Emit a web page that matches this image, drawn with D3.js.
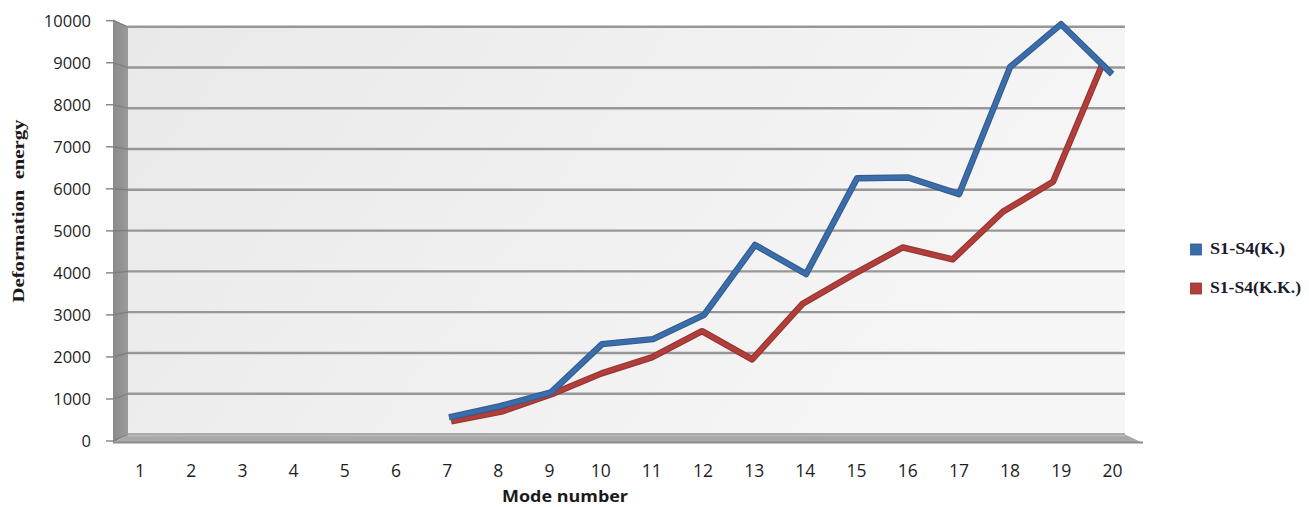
<!DOCTYPE html>
<html>
<head>
<meta charset="utf-8">
<script src="https://cdn.jsdelivr.net/npm/d3@7"></script>
<style>
  body { margin: 0; background: #fff; }
  svg { display: block; }
</style>
</head>
<body>
<svg id="chart" width="1309" height="507"></svg>
<script>
// Mode numbers on the category axis
const modes = [1, 2, 3, 4, 5, 6, 7, 8, 9, 10, 11, 12, 13, 14, 15, 16, 17, 18, 19, 20];
// Deformation energy per mode (no value for modes 1-6)
const energyK  = [null, null, null, null, null, null, 520, 790, 1120, 2280, 2400, 2980, 4660, 3960, 6260, 6280, 5880, 8930, 9960, 8760];
const energyKK = [null, null, null, null, null, null, 350, 585, 1010, 1520, 1910, 2550, 1860, 3210, 3920, 4590, 4300, 5460, 6190, 9100];
const yTicks = [0, 1000, 2000, 3000, 4000, 5000, 6000, 7000, 8000, 9000, 10000];
const seriesNames = ["S1-S4(K.)", "S1-S4(K.K.)"];
const seriesColors = ["#3b6dab", "#b23e3b"];

const svg = d3.select("#chart");

// 3D box: front plane (axis side) and back wall
const xFront = d3.scaleBand().domain(modes).range([113, 1143]);
const xBack  = d3.scaleBand().domain(modes).range([128, 1125]);
const yFront = d3.scaleLinear().domain([0, 10000]).range([441, 20.7]);
const yBack  = d3.scaleLinear().domain([0, 10000]).range([434.5, 26.7]);
const xLabel = d3.scaleBand().domain(modes).range([114.5, 1138]);

// project a (mode, value) point at depth t (0 = front, 1 = back wall)
function project(m, v, t) {
  const xf = xFront(m) + xFront.bandwidth() / 2;
  const xb = xBack(m) + xBack.bandwidth() / 2;
  return [xf + (xb - xf) * t, yFront(v) + (yBack(v) - yFront(v)) * t];
}

const defs = svg.append("defs");
const wallGrad = defs.append("linearGradient").attr("id", "wall").attr("x1", 0).attr("x2", 1).attr("y1", 0).attr("y2", 0.3);
wallGrad.append("stop").attr("offset", 0).attr("stop-color", "#e9e9e9");
wallGrad.append("stop").attr("offset", 1).attr("stop-color", "#f6f6f6");
const sideGrad = defs.append("linearGradient").attr("id", "side").attr("x1", 0).attr("x2", 1);
sideGrad.append("stop").attr("offset", 0).attr("stop-color", "#8b8b8b");
sideGrad.append("stop").attr("offset", 1).attr("stop-color", "#9a9a9a");

const [bx0, bx1] = xBack.range();
const [fx0, fx1] = xFront.range();

// back wall
svg.append("rect")
  .attr("x", bx0).attr("y", yBack(10000))
  .attr("width", bx1 - bx0).attr("height", yBack(0) - yBack(10000))
  .attr("fill", "url(#wall)");

// left side wall
svg.append("polygon")
  .attr("points", [[fx0, yFront(10000) - 1.5], [bx0, yBack(10000)], [bx0, yBack(0)], [fx0, yFront(0) + 2]].join(" "))
  .attr("fill", "url(#side)");

// gridlines across the back wall and the side wall
const grid = svg.append("g");
grid.selectAll("line.back").data(yTicks).join("line")
  .attr("class", "back")
  .attr("x1", bx0).attr("x2", bx1)
  .attr("y1", d => yBack(d)).attr("y2", d => yBack(d))
  .attr("stroke", "#979797").attr("stroke-width", 2.4);
grid.selectAll("line.side").data(yTicks).join("line")
  .attr("class", "side")
  .attr("x1", fx0).attr("x2", bx0)
  .attr("y1", d => yFront(d)).attr("y2", d => yBack(d))
  .attr("stroke", "#7d7d7d").attr("stroke-width", 1.2);

// floor
svg.append("polygon")
  .attr("points", [[fx0, yFront(0) + 2], [bx0, yBack(0)], [bx1, yBack(0)], [fx1, yFront(0) + 2]].join(" "))
  .attr("fill", "#a8a8a8");
svg.append("line")
  .attr("x1", fx0).attr("x2", fx1)
  .attr("y1", yFront(0) + 1.5).attr("y2", yFront(0) + 1.5)
  .attr("stroke", "#8c8c8c").attr("stroke-width", 2);
svg.append("line")
  .attr("x1", bx0).attr("x2", bx1)
  .attr("y1", yBack(0) + 1).attr("y2", yBack(0) + 1)
  .attr("stroke", "#bdbdbd").attr("stroke-width", 1.5);

// value axis ticks and labels
const yAxis = svg.append("g");
yAxis.selectAll("line").data(yTicks).join("line")
  .attr("x1", 106).attr("x2", fx0)
  .attr("y1", d => yFront(d)).attr("y2", d => yFront(d))
  .attr("stroke", "#8a8a8a").attr("stroke-width", 1.5);
yAxis.selectAll("text").data(yTicks).join("text")
  .attr("x", 91).attr("y", d => yFront(d) + 6)
  .attr("text-anchor", "end")
  .attr("font-family", "Open Sans, sans-serif")
  .attr("font-size", 16.5)
  .attr("fill", "#1e1e1e")
  .text(d => d);

// category labels
svg.append("g").selectAll("text").data(modes).join("text")
  .attr("x", d => xLabel(d) + xLabel.bandwidth() / 2)
  .attr("y", 476.5)
  .attr("text-anchor", "middle")
  .attr("font-family", "Open Sans, sans-serif")
  .attr("font-size", 17.5)
  .attr("fill", "#1e1e1e")
  .text(d => d);

// series ribbons: the second series sits deeper in the box
const series = [
  { name: seriesNames[1], values: energyKK, color: seriesColors[1], depth: 0.82 },
  { name: seriesNames[0], values: energyK,  color: seriesColors[0], depth: 0.3 }
];
const line = d3.line().defined(d => d[1] != null).x(d => d[0]).y(d => d[1]);
series.forEach(s => {
  const pts = modes.map((m, i) => s.values[i] == null ? [0, null] : project(m, s.values[i], s.depth));
  svg.append("path")
    .attr("d", line(pts))
    .attr("fill", "none")
    .attr("stroke", d3.color(s.color).darker(0.5))
    .attr("stroke-width", 6.4)
    .attr("stroke-linejoin", "round");
  svg.append("path")
    .attr("d", line(pts))
    .attr("fill", "none")
    .attr("stroke", s.color)
    .attr("stroke-width", 4.2)
    .attr("stroke-linejoin", "round");
});

// legend
const legend = svg.append("g");
const legendRows = [
  { name: seriesNames[0], color: seriesColors[0], y: 244 },
  { name: seriesNames[1], color: seriesColors[1], y: 283 }
];
legendRows.forEach(r => {
  legend.append("rect")
    .attr("x", 1190.5).attr("y", r.y).attr("width", 11).attr("height", 11)
    .attr("fill", r.color).attr("stroke", d3.color(r.color).darker(0.6)).attr("stroke-width", 0.8);
  legend.append("text")
    .attr("x", 1210).attr("y", r.y + 10)
    .attr("font-family", "Liberation Serif, serif")
    .attr("font-weight", "bold")
    .attr("font-size", 16)
    .attr("fill", "#1a1a2a")
    .attr("textLength", r.name.length > 10 ? 91 : 75)
    .attr("lengthAdjust", "spacingAndGlyphs")
    .text(r.name);
});

// axis titles
svg.append("text")
  .attr("transform", "translate(24,211) rotate(-90)")
  .attr("text-anchor", "middle")
  .attr("font-family", "Liberation Serif, serif")
  .attr("font-weight", "bold")
  .attr("font-size", 16.5)
  .attr("fill", "#1a1a1a")
  .attr("textLength", 183)
  .attr("lengthAdjust", "spacingAndGlyphs")
  .attr("xml:space", "preserve")
  .text("Deformation  energy");

svg.append("text")
  .attr("x", 565).attr("y", 502)
  .attr("text-anchor", "middle")
  .attr("font-family", "Open Sans, sans-serif")
  .attr("font-weight", "bold")
  .attr("font-size", 16)
  .attr("fill", "#1a1a1a")
  .attr("textLength", 126)
  .attr("lengthAdjust", "spacingAndGlyphs")
  .text("Mode number");
</script>
</body>
</html>
